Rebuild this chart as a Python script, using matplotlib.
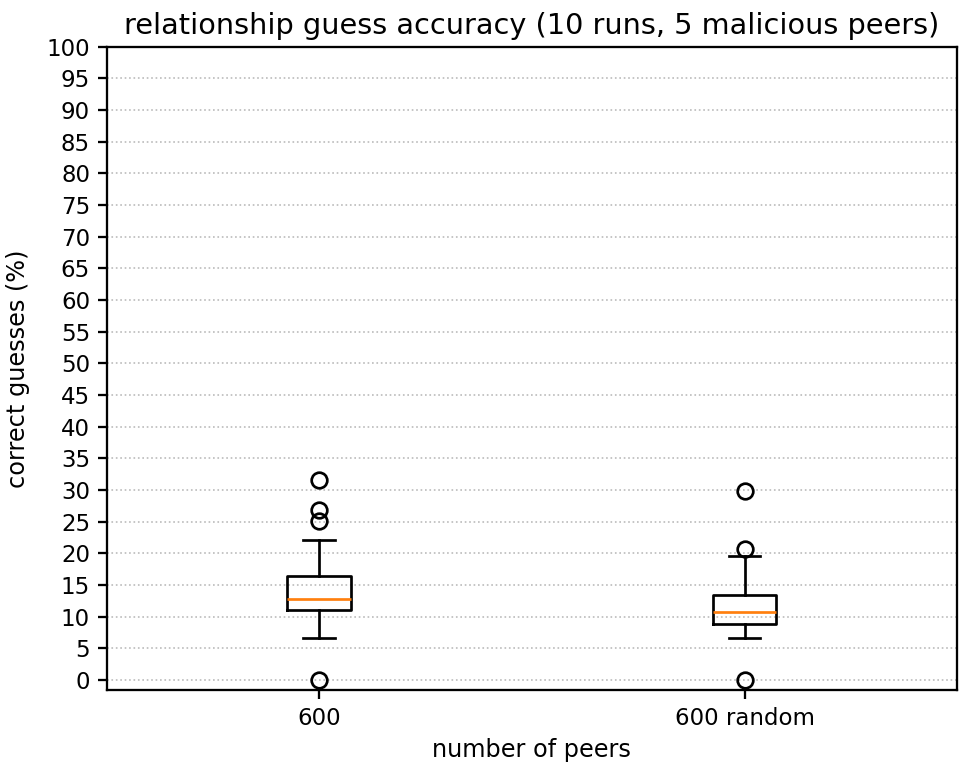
import matplotlib
matplotlib.use("Agg")
import matplotlib.pyplot as plt

# box statistics
labels = ["600", "600 random"]
medians = [12.8, 10.8]
q1 = [11.1, 8.9]
q3 = [16.4, 13.4]
whislo = [6.6, 6.6]
whishi = [22.1, 19.6]
fliers = [[0.0, 25.1, 26.9, 31.6], [0.0, 20.6, 29.9]]

stats = []
for i in range(len(labels)):
    stats.append({
        "label": labels[i],
        "med": medians[i],
        "q1": q1[i],
        "q3": q3[i],
        "whislo": whislo[i],
        "whishi": whishi[i],
        "fliers": fliers[i],
    })

fig = plt.figure(figsize=(961 / 150, 765 / 150), dpi=150)
ax = fig.add_axes([0.111, 0.098, 0.885, 0.841])

lw = 1.3
ax.bxp(stats, positions=[1, 2], widths=0.15,
       boxprops=dict(linewidth=lw),
       whiskerprops=dict(linewidth=lw),
       capprops=dict(linewidth=lw),
       medianprops=dict(linewidth=lw, color="#ff7f0e"),
       flierprops=dict(marker="o", markersize=7.5, markeredgewidth=lw,
                       markerfacecolor="none"))

ax.set_xlim(0.5, 2.5)
ax.set_ylim(-1.6, 100)
ax.set_yticks(range(0, 101, 5))
ax.yaxis.grid(True, linestyle=":", color="#bbbbbb", linewidth=0.8)
ax.set_axisbelow(True)
for s in ax.spines.values():
    s.set_linewidth(1.1)
ax.tick_params(labelsize=11, length=4.5, width=1.1)

ax.set_title("relationship guess accuracy (10 runs, 5 malicious peers)", fontsize=13.8)
ax.set_xlabel("number of peers", fontsize=11.5)
ax.set_ylabel("correct guesses (%)", fontsize=11.5, labelpad=8)

fig.savefig("out.png", dpi=150)
